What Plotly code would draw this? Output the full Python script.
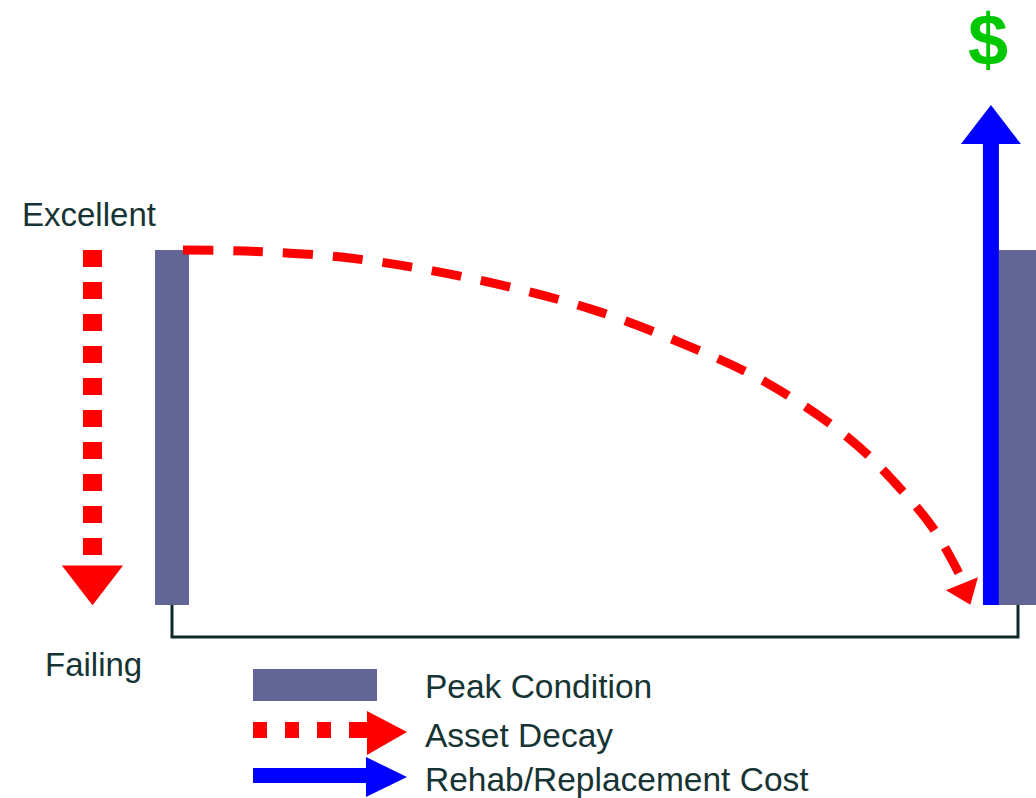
import plotly.graph_objects as go

# ---------------- data (conceptual units: years of service, condition 0=failing..1=excellent) ----
decay_years = [0.13, 1.0, 2.0, 3.0, 4.0, 5.0, 6.0, 7.0, 8.0, 8.6, 9.0, 9.3, 9.37]
decay_condition = [1.0, 0.996, 0.98, 0.945, 0.895, 0.83, 0.74, 0.63, 0.47, 0.33, 0.215, 0.09, 0.04]
peak_years = [0, 10]
peak_condition = [1.0, 1.0]
rehab_year = [9.68, 9.68]
rehab_cost = [0.0, 1.30]
scale_years = [-0.94, -0.94]
scale_condition = [1.0, 0.141]
scale_labels = ["Excellent", "Failing"]
legend_labels = ["Peak Condition", "Asset Decay", "Rehab/Replacement Cost"]
cost_label = "$"

# ---------------- styling ----------------
W, H = 1036, 798
X0, PX_T = 172.0, 84.6      # pixel of year 0, pixels per year
Y0, PX_C = 605.0, 355.0     # pixel of condition 0, pixels per condition unit
BAR = "#636595"
RED = "#ff0000"
BLUE = "#0000ff"
GREEN = "#00c800"
TXT = "#173434"
FONT = "Liberation Sans, Arial, sans-serif"

def px(x):
    return x / W

def py(y):
    return 1 - y / H

fig = go.Figure()

# bracket (timeline) joining the two peak bars
fig.add_trace(go.Scatter(
    x=[peak_years[0], peak_years[0], peak_years[1], peak_years[1]],
    y=[0, -0.09, -0.09, 0],
    mode="lines", line=dict(color="#0f2a2a", width=3),
    hoverinfo="skip", showlegend=False))

# peak condition bars
fig.add_trace(go.Bar(
    x=peak_years, y=peak_condition, width=[0.40, 0.44],
    marker=dict(color=BAR, line=dict(width=0)),
    hoverinfo="skip", showlegend=False))

# asset decay curve
fig.add_trace(go.Scatter(
    x=decay_years[:-1], y=decay_condition[:-1], mode="lines",
    line=dict(color=RED, width=9, dash="30px,20px", shape="spline"),
    hoverinfo="skip", showlegend=False))
fig.add_trace(go.Scatter(
    x=[decay_years[-1]], y=[decay_condition[-1]], mode="markers",
    marker=dict(symbol="triangle-down", size=30, color=RED, angle=-22,
                line=dict(width=0)),
    hoverinfo="skip", showlegend=False))

# condition scale arrow (Excellent -> Failing)
fig.add_trace(go.Scatter(
    x=scale_years, y=scale_condition, mode="lines",
    line=dict(color=RED, width=19, dash="17px,15px"),
    hoverinfo="skip", showlegend=False))
fig.add_trace(go.Scatter(
    x=[scale_years[1]], y=[0.074], mode="markers",
    marker=dict(symbol="triangle-down", size=53, color=RED, line=dict(width=0)),
    hoverinfo="skip", showlegend=False))

# rehab / replacement cost arrow
fig.add_trace(go.Scatter(
    x=rehab_year, y=rehab_cost, mode="lines",
    line=dict(color=BLUE, width=16),
    hoverinfo="skip", showlegend=False))
fig.add_trace(go.Scatter(
    x=[rehab_year[1]], y=[rehab_cost[1] + 0.035], mode="markers",
    marker=dict(symbol="triangle-up", size=52, color=BLUE, line=dict(width=0)),
    hoverinfo="skip", showlegend=False))

# ---------------- custom legend ----------------
shapes = [
    dict(type="rect", xref="paper", yref="paper",
         x0=px(253), x1=px(377), y0=py(701), y1=py(669),
         fillcolor=BAR, line=dict(width=0)),
    dict(type="line", xref="paper", yref="paper",
         x0=px(253), x1=px(380), y0=py(730), y1=py(730),
         line=dict(color=RED, width=16, dash="14px,18px,14px,18px,14px,18px,40px")),
    dict(type="path", xref="paper", yref="paper",
         path=f"M {px(367)},{py(711)} L {px(407)},{py(732)} L {px(367)},{py(755)} Z",
         fillcolor=RED, line=dict(width=0)),
    dict(type="line", xref="paper", yref="paper",
         x0=px(253), x1=px(370), y0=py(775.5), y1=py(775.5),
         line=dict(color=BLUE, width=15)),
    dict(type="path", xref="paper", yref="paper",
         path=f"M {px(366)},{py(757)} L {px(407)},{py(777)} L {px(366)},{py(797)} Z",
         fillcolor=BLUE, line=dict(width=0)),
]

annotations = []
for label, y in zip(legend_labels, [686, 735, 779]):
    annotations.append(dict(text=label, xref="paper", yref="paper",
                            x=px(423), y=py(y), xanchor="left", yanchor="middle",
                            showarrow=False, font=dict(family=FONT, size=33.5, color=TXT)))
for label, (x, y) in zip(scale_labels, [(20, 214), (43, 664)]):
    annotations.append(dict(text=label, xref="paper", yref="paper",
                            x=px(x), y=py(y), xanchor="left", yanchor="middle",
                            showarrow=False, font=dict(family=FONT, size=33, color=TXT)))
annotations.append(dict(text=f"<b>{cost_label}</b>", xref="paper", yref="paper",
                        x=px(988), y=py(40), xanchor="center", yanchor="middle",
                        showarrow=False, font=dict(family=FONT, size=72, color=GREEN)))

fig.update_layout(
    width=W, height=H,
    margin=dict(l=0, r=0, t=0, b=0),
    paper_bgcolor="white", plot_bgcolor="white",
    xaxis=dict(range=[-X0 / PX_T, (W - X0) / PX_T], visible=False, fixedrange=True),
    yaxis=dict(range=[(Y0 - H) / PX_C, Y0 / PX_C], visible=False, fixedrange=True),
    shapes=shapes, annotations=annotations,
    showlegend=False, bargap=0,
)

fig.write_html("out.html", config={"displayModeBar": False})
